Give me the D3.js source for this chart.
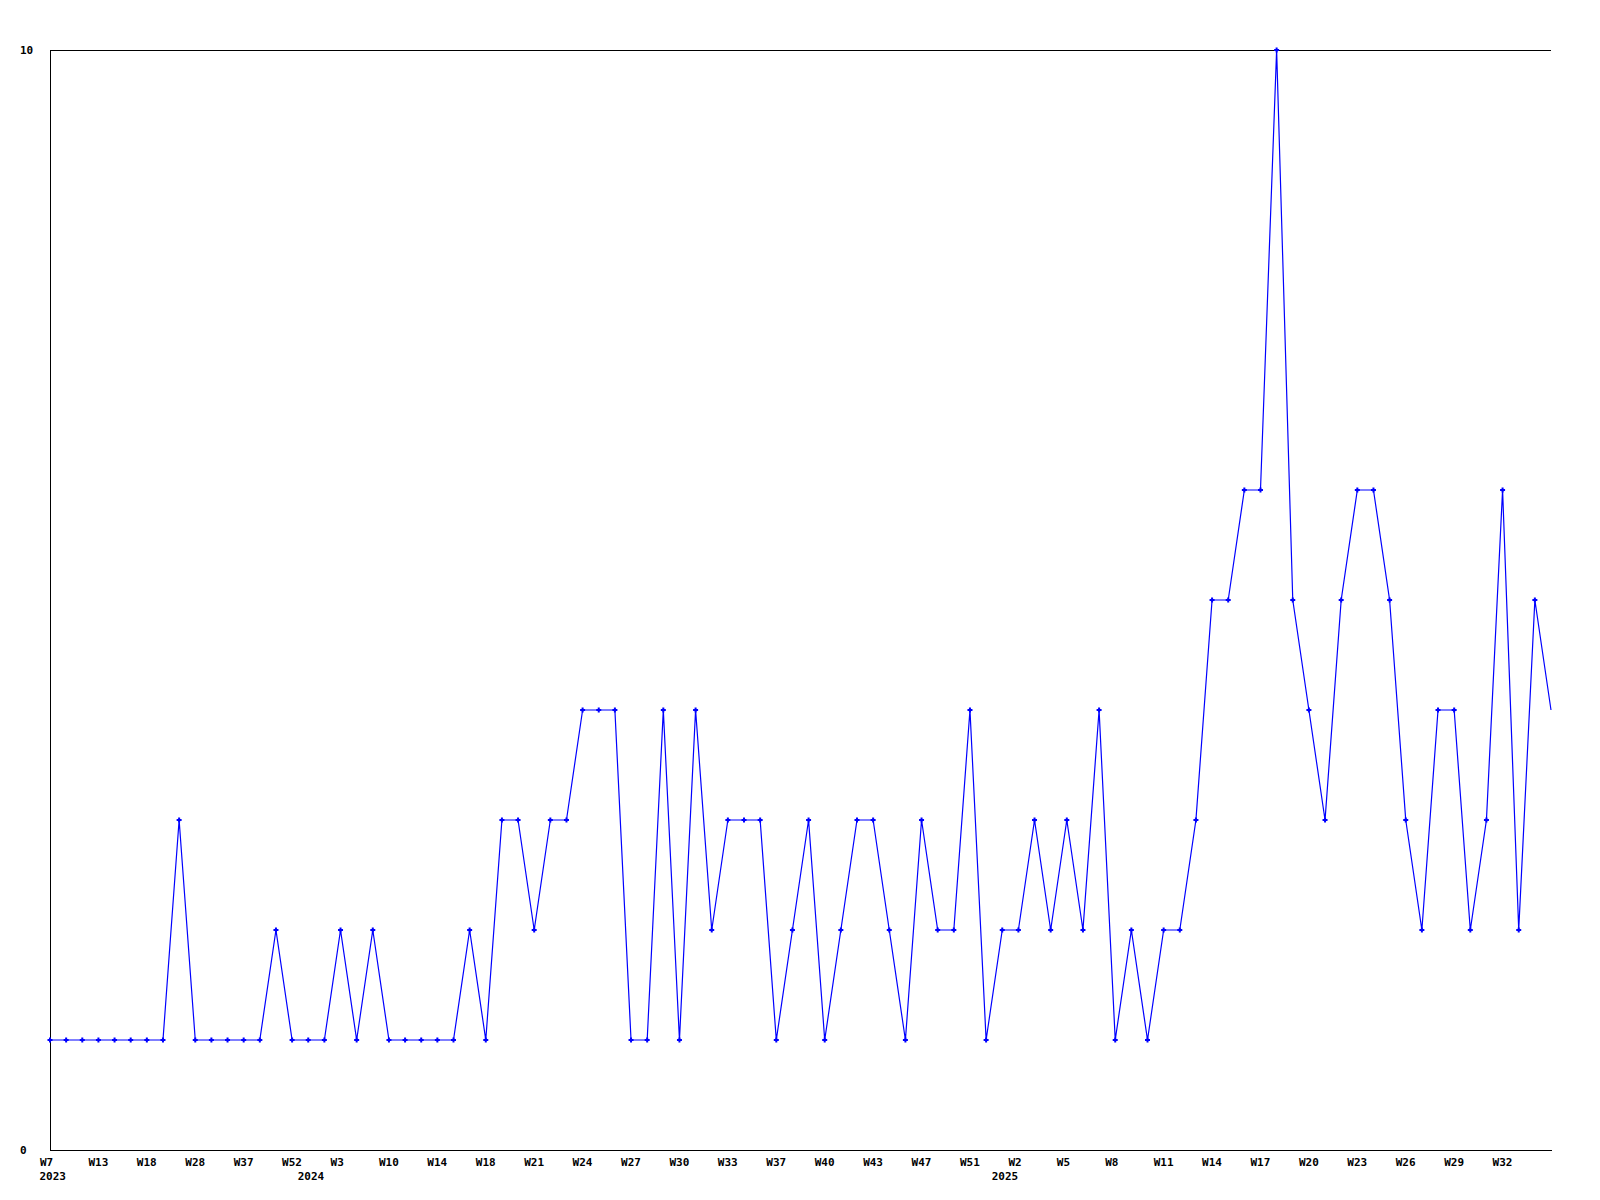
<!DOCTYPE html>
<html>
<head>
<meta charset="utf-8">
<script src="https://cdn.jsdelivr.net/npm/d3@7"></script>
<style>
  html, body { margin: 0; padding: 0; background: #fff; }
  svg { display: block; }
  .lbl { font-family: "DejaVu Sans Mono", monospace; font-weight: bold; font-size: 11px; fill: #000; }
</style>
</head>
<body>
<svg id="chart" width="1600" height="1200"></svg>
<script>
// Weekly values (one per point, in order)
const values = [
  1,1,1,1,1,1,1,1,3,1,
  1,1,1,1,2,1,1,1,2,1,
  2,1,1,1,1,1,2,1,3,3,
  2,3,3,4,4,4,1,1,4,1,
  4,2,3,3,3,1,2,3,1,2,
  3,3,2,1,3,2,2,4,1,2,
  2,3,2,3,2,4,1,2,1,2,
  2,3,5,5,6,6,10,5,4,3,
  5,6,6,5,3,2,4,4,2,3,
  6,2,5,4
];
// Week tick labels, one for every third point
const tickLabels = [
  "W7","W13","W18","W28","W37","W52","W3","W10","W14","W18","W21",
  "W24","W27","W30","W33","W37","W40","W43","W47","W51","W2","W5",
  "W8","W11","W14","W17","W20","W23","W26","W29","W32"
];
const tickStep = 3;
// Year labels and the point index where each year starts
const yearLabels = ["2023","2024","2025"];
const yearStarts = [0, 16, 59];
const yTicks = [0, 10];

const svg = d3.select("#chart");
const mLeft = 50, mRight = 1551, mTop = 50, mBottom = 1150;

const x = d3.scaleLinear().domain([0, values.length - 1]).range([mLeft, mRight]);
const y = d3.scaleLinear().domain([0, 10]).range([mBottom, mTop]);

// frame: top line
svg.append("line")
  .attr("x1", mLeft).attr("x2", mRight).attr("y1", mTop + 0.5).attr("y2", mTop + 0.5)
  .attr("stroke", "#000").attr("stroke-width", 1).attr("shape-rendering", "crispEdges");

// x axis
const xTickVals = tickLabels.map((d, i) => i * tickStep);
const xAxis = d3.axisBottom(x).tickValues(xTickVals).tickSize(0).tickSizeOuter(0)
  .tickFormat((d, i) => tickLabels[i]);
const gx = svg.append("g").attr("transform", `translate(0,${mBottom})`).call(xAxis);
gx.select(".domain").attr("stroke", "#000").attr("shape-rendering", "crispEdges");
gx.selectAll(".tick text")
  .attr("class", "lbl")
  .attr("text-anchor", "start")
  .attr("x", -10.5)
  .attr("y", 16)
  .attr("dy", null);

// year labels
svg.append("g").selectAll("text").data(yearLabels).join("text")
  .attr("class", "lbl")
  .attr("x", (d, i) => x(yearStarts[i]) - 10.5)
  .attr("y", mBottom + 30)
  .text(d => d);

// y axis
const yAxis = d3.axisLeft(y).tickValues(yTicks).tickSize(0).tickSizeOuter(0).tickFormat(d3.format("d"));
const gy = svg.append("g").attr("transform", `translate(${mLeft},0)`).call(yAxis);
gy.select(".domain").attr("stroke", "#000").attr("shape-rendering", "crispEdges");
gy.selectAll(".tick text")
  .attr("class", "lbl")
  .attr("text-anchor", "start")
  .attr("x", 20 - mLeft)
  .attr("dy", "0.36em");

// line
const line = d3.line().x((d, i) => x(i)).y(d => y(d));
svg.append("path")
  .datum(values)
  .attr("d", line)
  .attr("fill", "none")
  .attr("stroke", "#0000ff")
  .attr("stroke-width", 1.2);

// markers (all points except the last one)
const plus = "M-1,-2.5h2v1.5h1.5v2h-1.5v1.5h-2v-1.5h-1.5v-2h1.5z";
svg.append("g").selectAll("path").data(values.slice(0, values.length - 1)).join("path")
  .attr("d", plus)
  .attr("transform", (d, i) => `translate(${x(i)},${y(d)})`)
  .attr("fill", "#0000ff");
</script>
</body>
</html>
